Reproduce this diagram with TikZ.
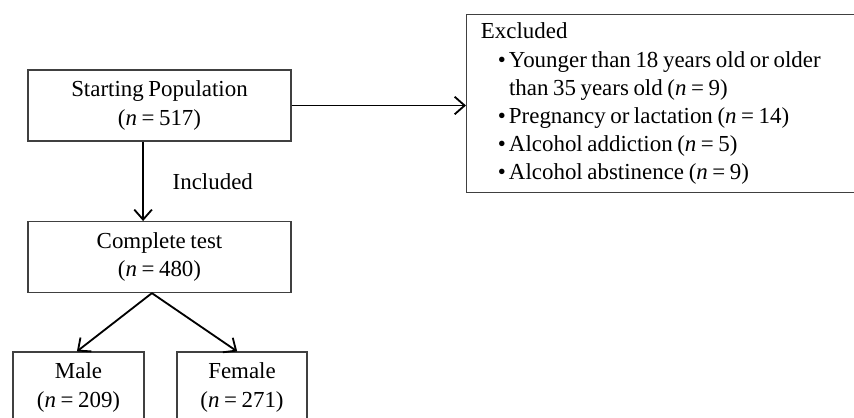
\documentclass[tikz,border=0pt]{standalone}
\usepackage{fontspec}
\setmainfont[WordSpace=0.8]{Liberation Serif}
\usepackage{tikz}
\usetikzlibrary{arrows.meta, positioning, calc}

\begin{document}
\begin{tikzpicture}[
    x=0.025cm, y=-0.025cm,
    node distance=2.025cm and 2cm,
    box/.style={rectangle, draw=black!75, line width=0.8pt, align=center, minimum height=1.775cm, inner sep=1mm, font=\fontsize{16.3}{20}\selectfont},
    arrow/.style={line width=1.3pt, -{Straight Barb[length=2.5mm, width=4.4mm]}}
]
\useasboundingbox (0,0) rectangle (854,417);
\clip (0,0) rectangle (854,417);

% Population
\node (start) [box, minimum width=6.575cm] at (159.5,105.5) {Starting Population \\ (\textit{n} = 517)};
\node (excluded) [box, anchor=north west, minimum height=4.45cm, text width=9.25cm, align=left, inner xsep=3.6mm] at (466,14)
  {\spaceskip=0pt \xspaceskip=0pt
   \begin{tabular}{@{\hspace{4.2mm}}l@{\hspace{0.8mm}}l@{}}
   \multicolumn{2}{@{}l@{}}{Excluded} \\
   \textbullet & Younger than 18 years old or older \\
               & than 35 years old (\textit{n} = 9) \\
   \textbullet & Pregnancy or lactation (\textit{n} = 14) \\
   \textbullet & Alcohol addiction (\textit{n} = 5) \\
   \textbullet & Alcohol abstinence (\textit{n} = 9)
   \end{tabular}};

% Test
\node (complete) [box, minimum width=6.575cm, below=of start, yshift=0.04cm] {Complete test \\ (\textit{n} = 480)};

% Sex
\node (male) [box, minimum width=3.275cm] at (78.5,387.5) {Male \\ (\textit{n} = 209)};
\node (female) [box, minimum width=3.25cm] at (242,387.5) {Female \\ (\textit{n} = 271)};

% Connections
\draw [arrow] (start.east) -- (start.east -| excluded.west);
\draw [arrow] ([xshift=-4.1mm]start.south) -- ([xshift=-4.1mm]start.south |- complete.north)
  node [midway, right=6mm, font=\fontsize{16.3}{20}\selectfont] (incl) {Included};
\draw [arrow] ([xshift=-1.9mm]complete.south) -- ([xshift=-0.4mm]male.north);
\draw [arrow] ([xshift=-1.9mm]complete.south) -- ([xshift=-1.2mm]female.north);

\end{tikzpicture}
\end{document}
